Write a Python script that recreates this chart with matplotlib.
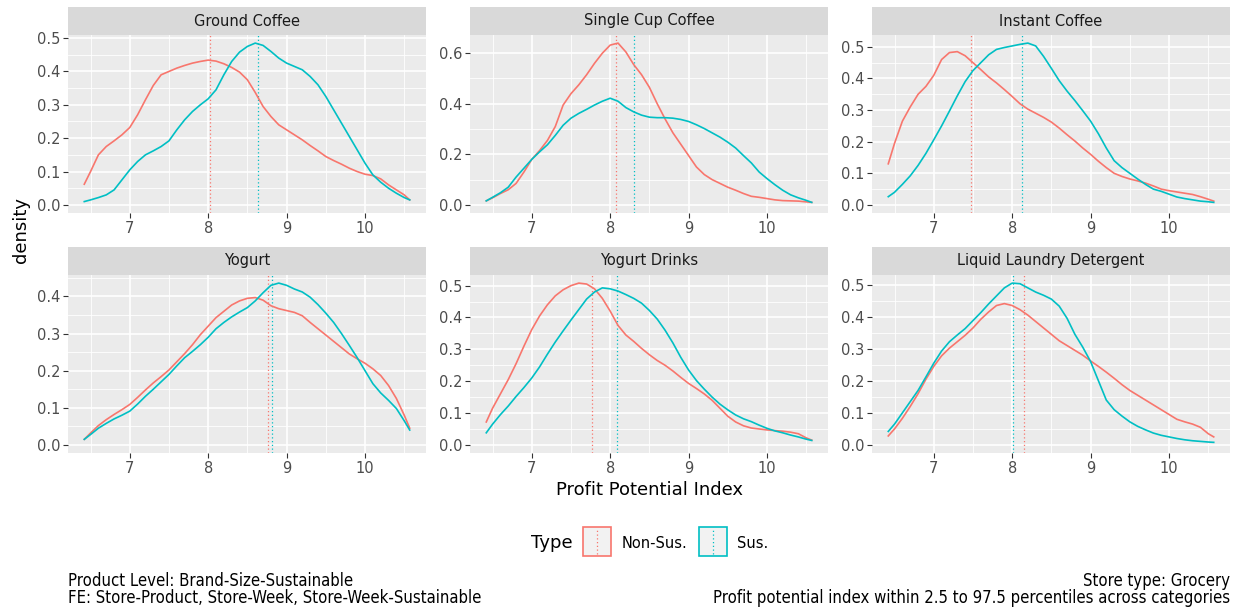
import matplotlib.pyplot as plt
from matplotlib.patches import Rectangle
from matplotlib.lines import Line2D
from matplotlib.ticker import MultipleLocator, FormatStrFormatter

# Density of the profit potential index by category, sustainable vs not
categories = ['Ground Coffee', 'Single Cup Coffee', 'Instant Coffee',
              'Yogurt', 'Yogurt Drinks', 'Liquid Laundry Detergent']
types = ['Non-Sus.', 'Sus.']

x_grid = [6.42,
          6.5, 6.6, 6.7, 6.8, 6.9,
          7.0, 7.1, 7.2, 7.3, 7.4, 7.5, 7.6, 7.7, 7.8, 7.9,
          8.0, 8.1, 8.2, 8.3, 8.4, 8.5, 8.6, 8.7, 8.8, 8.9,
          9.0, 9.1, 9.2, 9.3, 9.4, 9.5, 9.6, 9.7, 9.8, 9.9,
          10.0, 10.1, 10.2, 10.3, 10.4, 10.5,
          10.57]

ground_nonsus = [0.062,
                 0.10, 0.15, 0.175, 0.192, 0.21,
                 0.232, 0.27, 0.315, 0.358, 0.39, 0.40, 0.41, 0.418, 0.425, 0.43,
                 0.434, 0.431, 0.423, 0.412, 0.398, 0.375, 0.337, 0.295, 0.265, 0.24,
                 0.225, 0.21, 0.195, 0.178, 0.162, 0.145, 0.133, 0.122, 0.11, 0.10,
                 0.092, 0.088, 0.078, 0.06, 0.045, 0.03,
                 0.015]
ground_sus = [0.01,
              0.015, 0.022, 0.03, 0.045, 0.075,
              0.105, 0.13, 0.15, 0.162, 0.175, 0.192, 0.225, 0.255, 0.28, 0.30,
              0.318, 0.345, 0.39, 0.43, 0.458, 0.475, 0.485, 0.478, 0.46, 0.44,
              0.425, 0.415, 0.405, 0.385, 0.36, 0.325, 0.285, 0.245, 0.205, 0.165,
              0.125, 0.09, 0.068, 0.05, 0.035, 0.022,
              0.015]

single_nonsus = [0.016,
                 0.028, 0.045, 0.06, 0.085, 0.13,
                 0.18, 0.215, 0.255, 0.31, 0.395, 0.44, 0.475, 0.515, 0.56, 0.60,
                 0.632, 0.64, 0.605, 0.555, 0.515, 0.465, 0.40, 0.34, 0.285, 0.24,
                 0.195, 0.15, 0.12, 0.10, 0.085, 0.07, 0.058, 0.045, 0.034, 0.03,
                 0.025, 0.02, 0.017, 0.016, 0.015, 0.012,
                 0.01]
single_sus = [0.016,
              0.03, 0.048, 0.07, 0.11, 0.145,
              0.18, 0.21, 0.238, 0.275, 0.315, 0.343, 0.362, 0.378, 0.395, 0.41,
              0.422, 0.41, 0.385, 0.368, 0.355, 0.347, 0.345, 0.345, 0.343, 0.338,
              0.33, 0.317, 0.302, 0.285, 0.268, 0.248, 0.225, 0.195, 0.166, 0.13,
              0.104, 0.08, 0.058, 0.04, 0.028, 0.018,
              0.01]

instant_nonsus = [0.13,
                  0.195, 0.265, 0.31, 0.35, 0.375,
                  0.41, 0.46, 0.482, 0.485, 0.472, 0.45, 0.428, 0.405, 0.386, 0.365,
                  0.343, 0.32, 0.303, 0.29, 0.277, 0.262, 0.243, 0.222, 0.202, 0.18,
                  0.16, 0.138, 0.118, 0.10, 0.09, 0.082, 0.076, 0.069, 0.06, 0.05,
                  0.045, 0.041, 0.037, 0.033, 0.026, 0.018,
                  0.012]
instant_sus = [0.026,
               0.04, 0.065, 0.092, 0.125, 0.163,
               0.206, 0.25, 0.297, 0.345, 0.39, 0.425, 0.45, 0.475, 0.492, 0.498,
               0.503, 0.508, 0.512, 0.503, 0.47, 0.432, 0.393, 0.36, 0.33, 0.298,
               0.265, 0.225, 0.18, 0.14, 0.118, 0.10, 0.082, 0.065, 0.05, 0.043,
               0.034, 0.025, 0.02, 0.016, 0.012, 0.01,
               0.008]

yogurt_nonsus = [0.015,
                 0.032, 0.052, 0.068, 0.082, 0.095,
                 0.109, 0.128, 0.148, 0.167, 0.184, 0.202, 0.224, 0.246, 0.27, 0.297,
                 0.32, 0.343, 0.36, 0.377, 0.388, 0.395, 0.397, 0.39, 0.375, 0.367,
                 0.362, 0.357, 0.348, 0.33, 0.313, 0.296, 0.279, 0.262, 0.245, 0.232,
                 0.22, 0.205, 0.187, 0.16, 0.125, 0.08,
                 0.045]
yogurt_sus = [0.015,
              0.028, 0.045, 0.058, 0.07, 0.08,
              0.091, 0.11, 0.131, 0.15, 0.17, 0.19, 0.213, 0.235, 0.252, 0.27,
              0.29, 0.313, 0.33, 0.345, 0.358, 0.37, 0.388, 0.41, 0.43, 0.436,
              0.43, 0.42, 0.412, 0.398, 0.378, 0.355, 0.33, 0.30, 0.268, 0.235,
              0.20, 0.165, 0.14, 0.12, 0.098, 0.065,
              0.04]

drinks_nonsus = [0.072,
                 0.115, 0.16, 0.205, 0.255, 0.31,
                 0.362, 0.405, 0.44, 0.468, 0.487, 0.50, 0.508, 0.505, 0.49, 0.46,
                 0.42, 0.375, 0.345, 0.325, 0.303, 0.283, 0.265, 0.25, 0.232, 0.212,
                 0.193, 0.177, 0.16, 0.14, 0.115, 0.09, 0.072, 0.06, 0.053, 0.05,
                 0.047, 0.045, 0.043, 0.04, 0.035, 0.022,
                 0.015]
drinks_sus = [0.038,
              0.065, 0.095, 0.122, 0.152, 0.18,
              0.21, 0.245, 0.285, 0.323, 0.358, 0.392, 0.425, 0.458, 0.48, 0.493,
              0.49, 0.483, 0.472, 0.46, 0.445, 0.422, 0.395, 0.36, 0.32, 0.275,
              0.235, 0.202, 0.175, 0.15, 0.128, 0.11, 0.094, 0.082, 0.073, 0.062,
              0.052, 0.044, 0.038, 0.031, 0.025, 0.018,
              0.014]

laundry_nonsus = [0.028,
                  0.05, 0.083, 0.12, 0.16, 0.205,
                  0.245, 0.278, 0.302, 0.322, 0.342, 0.365, 0.392, 0.415, 0.435, 0.441,
                  0.435, 0.422, 0.405, 0.385, 0.365, 0.345, 0.325, 0.31, 0.295, 0.28,
                  0.262, 0.245, 0.227, 0.208, 0.188, 0.17, 0.155, 0.14, 0.125, 0.11,
                  0.095, 0.08, 0.072, 0.065, 0.055, 0.035,
                  0.025]
laundry_sus = [0.042,
               0.065, 0.10, 0.135, 0.17, 0.212,
               0.255, 0.293, 0.322, 0.343, 0.363, 0.388, 0.413, 0.44, 0.465, 0.49,
               0.505, 0.503, 0.49, 0.477, 0.467, 0.455, 0.433, 0.395, 0.345, 0.305,
               0.26, 0.20, 0.14, 0.11, 0.09, 0.072, 0.058, 0.047, 0.037, 0.03,
               0.025, 0.02, 0.016, 0.013, 0.011, 0.009,
               0.008]

# mean index per category and type (dotted reference lines)
nonsus_means = [8.02, 8.07, 7.47, 8.76, 7.77, 8.15]
sus_means = [8.63, 8.30, 8.13, 8.82, 8.09, 8.01]

y_steps = [0.1, 0.2, 0.1, 0.1, 0.1, 0.1]

nonsus_curves = [ground_nonsus, single_nonsus, instant_nonsus,
                 yogurt_nonsus, drinks_nonsus, laundry_nonsus]
sus_curves = [ground_sus, single_sus, instant_sus,
              yogurt_sus, drinks_sus, laundry_sus]

RED = '#F8766D'
TEAL = '#00BFC4'

W, H = 1241, 609
fig = plt.figure(figsize=(W / 100, H / 100), dpi=100)
plt.rcParams['font.family'] = ['DejaVu Sans']


def box(x0, y0, x1, y1):
    # pixel box (top-left origin) -> figure fraction [left, bottom, width, height]
    return [x0 / W, 1 - y1 / H, (x1 - x0) / W, (y1 - y0) / H]


def fpt(x, y):
    return x / W, 1 - y / H


cols = [(68, 426), (470, 828), (872, 1230)]
rows = [(7, 35, 213), (247, 275, 453)]

span = x_grid[-1] - x_grid[0]
xlim = (x_grid[0] - 0.05 * span, x_grid[-1] + 0.05 * span)

for i, cat in enumerate(categories):
    x0, x1 = cols[i % 3]
    s0, p0, p1 = rows[i // 3]

    ax = fig.add_axes(box(x0, p0, x1, p1))
    ax.set_facecolor('#EBEBEB')
    for sp in ax.spines.values():
        sp.set_visible(False)
    ax.set_axisbelow(True)

    ax.plot(x_grid, nonsus_curves[i], color=RED, lw=1.2, zorder=3)
    ax.plot(x_grid, sus_curves[i], color=TEAL, lw=1.2, zorder=3)
    ax.axvline(nonsus_means[i], color=RED, lw=0.9, ls=(0, (1, 2)), zorder=2)
    ax.axvline(sus_means[i], color=TEAL, lw=0.9, ls=(0, (1, 2)), zorder=2)

    ymax = max(max(nonsus_curves[i]), max(sus_curves[i]))
    ax.set_ylim(-0.05 * ymax, 1.05 * ymax)
    ax.set_xlim(*xlim)

    ax.xaxis.set_major_locator(MultipleLocator(1))
    ax.xaxis.set_minor_locator(MultipleLocator(0.5))
    ax.yaxis.set_major_locator(MultipleLocator(y_steps[i]))
    ax.yaxis.set_minor_locator(MultipleLocator(y_steps[i] / 2))
    ax.yaxis.set_major_formatter(FormatStrFormatter('%.1f'))

    ax.grid(which='major', color='white', lw=1.2)
    ax.grid(which='minor', color='white', lw=0.6)
    ax.tick_params(which='major', length=3.5, width=0.8, color='#333333',
                   labelcolor='#4D4D4D', labelsize=10.5, pad=2)
    ax.tick_params(which='minor', length=0)

    sax = fig.add_axes(box(x0, s0, x1, p0))
    sax.set_facecolor('#D9D9D9')
    sax.set_xticks([])
    sax.set_yticks([])
    for sp in sax.spines.values():
        sp.set_visible(False)
    sax.text(0.5, 0.5, cat, ha='center', va='center', fontsize=10.5,
             color='#1A1A1A', transform=sax.transAxes)

# axis titles
fig.text(*fpt(649, 490), 'Profit Potential Index', ha='center', va='center', fontsize=13)
fig.text(*fpt(21, 230), 'density', ha='center', va='center', rotation=90, fontsize=13)

# legend
fig.text(*fpt(531, 543), 'Type', ha='left', va='center', fontsize=13)
for (kx0, kx1), col, lab, tx in [((583, 611), RED, types[0], 622),
                                  ((699, 727), TEAL, types[1], 737)]:
    fig.add_artist(Rectangle(fpt(kx0, 556), (kx1 - kx0) / W, 29 / H,
                             transform=fig.transFigure, facecolor='#F2F2F2',
                             edgecolor=col, lw=1.2))
    xm = (kx0 + kx1) / 2
    fig.add_artist(Line2D([xm / W, xm / W], [1 - 554 / H, 1 - 529 / H],
                          transform=fig.transFigure, color=col, lw=0.9,
                          ls=(0, (1, 2))))
    fig.text(*fpt(tx, 543), lab, ha='left', va='center', fontsize=10.5)

# notes
note_font = dict(fontsize=12, fontstretch='condensed', color='black')
fig.text(*fpt(68, 581), 'Product Level: Brand-Size-Sustainable', ha='left', va='center', **note_font)
fig.text(*fpt(68, 598), 'FE: Store-Product, Store-Week, Store-Week-Sustainable',
         ha='left', va='center', **note_font)
fig.text(*fpt(1230, 581), 'Store type: Grocery', ha='right', va='center', **note_font)
fig.text(*fpt(1230, 598), 'Profit potential index within 2.5 to 97.5 percentiles across categories',
         ha='right', va='center', **note_font)

fig.savefig('out.png', dpi=100, facecolor='white')
